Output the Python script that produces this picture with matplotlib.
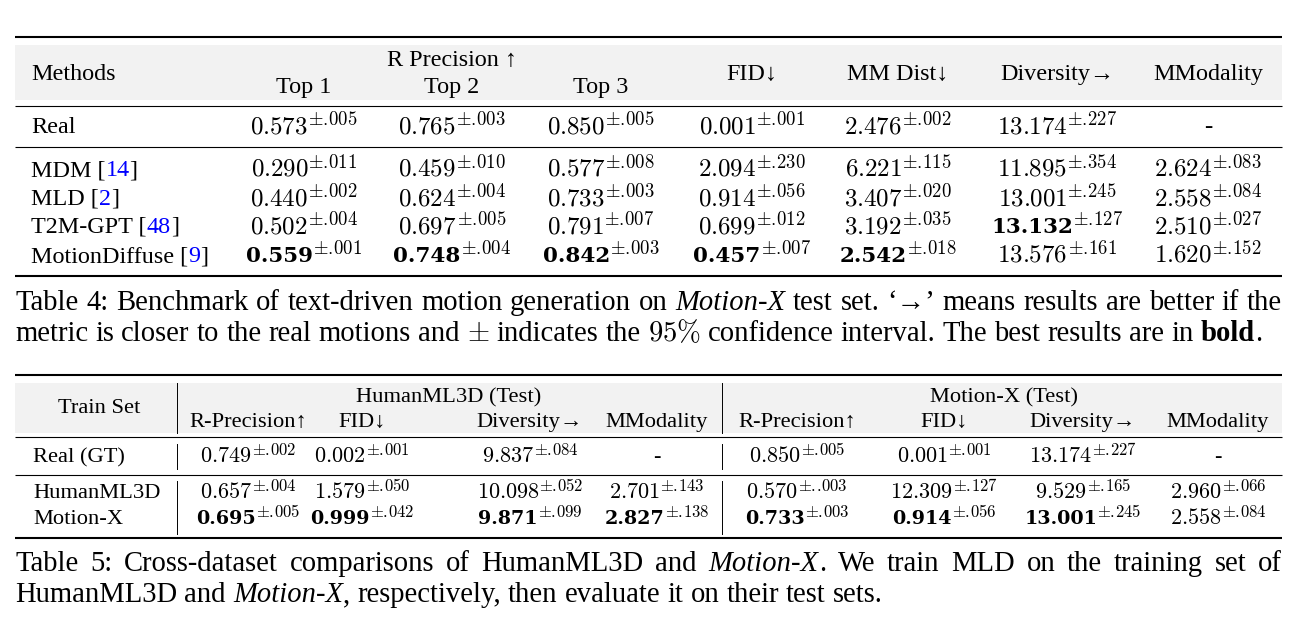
import matplotlib
matplotlib.use('Agg')
import matplotlib.pyplot as plt
from matplotlib.patches import Rectangle

plt.rcParams['font.family'] = ['Liberation Serif', 'DejaVu Serif']
plt.rcParams['mathtext.fontset'] = 'cm'

W, H = 1302, 618

# ---------------- Table 4 data ----------------
t4_subcols = ['Top 1', 'Top 2', 'Top 3']
t4_metrics = ['FID\u2193', 'MM Dist\u2193', 'Diversity\u2192', 'MModality']
t4_methods = ['Real', 'MDM', 'MLD', 'T2M-GPT', 'MotionDiffuse']
t4_refs = [None, '14', '2', '48', '9']
t4_vals = [
    ['0.573', '0.765', '0.850', '0.001', '2.476', '13.174', '-'],
    ['0.290', '0.459', '0.577', '2.094', '6.221', '11.895', '2.624'],
    ['0.440', '0.624', '0.733', '0.914', '3.407', '13.001', '2.558'],
    ['0.502', '0.697', '0.791', '0.699', '3.192', '13.132', '2.510'],
    ['0.559', '0.748', '0.842', '0.457', '2.542', '13.576', '1.620'],
]
t4_pm = [
    ['.005', '.003', '.005', '.001', '.002', '.227', None],
    ['.011', '.010', '.008', '.230', '.115', '.354', '.083'],
    ['.002', '.004', '.003', '.056', '.020', '.245', '.084'],
    ['.004', '.005', '.007', '.012', '.035', '.127', '.027'],
    ['.001', '.004', '.003', '.007', '.018', '.161', '.152'],
]
t4_bold = [(3, 5), (4, 0), (4, 1), (4, 2), (4, 3), (4, 4)]

# ---------------- Table 5 data ----------------
t5_groups = ['HumanML3D (Test)', 'Motion-X (Test)']
t5_metrics = ['R-Precision\u2191', 'FID\u2193', 'Diversity\u2192', 'MModality'] * 2
t5_sets = ['Real (GT)', 'HumanML3D', 'Motion-X']
t5_vals = [
    ['0.749', '0.002', '9.837', '-', '0.850', '0.001', '13.174', '-'],
    ['0.657', '1.579', '10.098', '2.701', '0.570', '12.309', '9.529', '2.960'],
    ['0.695', '0.999', '9.871', '2.827', '0.733', '0.914', '13.001', '2.558'],
]
t5_pm = [
    ['.002', '.001', '.084', None, '.005', '.001', '.227', None],
    ['.004', '.050', '.052', '.143', '..003', '.127', '.165', '.066'],
    ['.005', '.042', '.099', '.138', '.003', '.056', '.245', '.084'],
]
t5_bold = [(2, 0), (2, 1), (2, 2), (2, 3), (2, 4), (2, 5), (2, 6)]

cap4 = [
    [[(w, 'n')] for w in 'Table 4: Benchmark of text-driven motion generation on'.split()]
    + [[('Motion-X', 'i')], [('test', 'n')], [('set.', 'n')], [('\u2018\u2192\u2019', 'n')]]
    + [[(w, 'n')] for w in 'means results are better if the'.split()],
    [[(w, 'n')] for w in 'metric is closer to the real motions and'.split()]
    + [[(r'$\pm$', 'n')], [('indicates', 'n')], [('the', 'n')], [(r'$95\%$', 'n')]]
    + [[(w, 'n')] for w in 'confidence interval. The best results are in'.split()]
    + [[('bold', 'b'), ('.', 'n')]],
]
cap5 = [
    [[(w, 'n')] for w in 'Table 5: Cross-dataset comparisons of HumanML3D and'.split()]
    + [[('Motion-X', 'i'), ('.', 'n')]]
    + [[(w, 'n')] for w in 'We train MLD on the training set of'.split()],
    [[('HumanML3D', 'n')], [('and', 'n')], [('Motion-X', 'i'), (',', 'n')]]
    + [[(w, 'n')] for w in 'respectively, then evaluate it on their test sets.'.split()],
]

STYLE = {'n': {}, 'i': {'style': 'italic'}, 'b': {'weight': 'bold'}}

fig = plt.figure(figsize=(W / 100, H / 100), dpi=100)
ax = fig.add_axes([0, 0, 1, 1])
ax.set_xlim(0, W)
ax.set_ylim(H, 0)
ax.axis('off')
renderer = fig.canvas.get_renderer()


def width(t):
    return t.get_window_extent(renderer).width


def runs(x, y, parts, size, justify=None):
    """parts: list of words, each word a list of (text, style) pieces"""
    placed, widths = [], []
    for word in parts:
        pieces, wsum = [], 0
        for txt, st in word:
            t = ax.text(0, y, txt, fontsize=size, va='baseline', ha='left', **STYLE[st])
            tw = width(t)
            pieces.append((t, tw))
            wsum += tw
        placed.append(pieces)
        widths.append(wsum)
    gap = 0.25 * size * 100 / 72
    if justify is not None and len(parts) > 1:
        gap = (justify - sum(widths)) / (len(parts) - 1)
    for pieces in placed:
        for t, tw in pieces:
            t.set_x(x)
            x += tw
        x += gap


def cell(x, y, val, pm, bold, size, raise_px):
    if pm is None:
        ax.text(x, y, val, fontsize=size, ha='center', va='baseline')
        return
    if bold:
        base = ax.text(0, y, val, fontsize=size * 0.86, va='baseline',
                       family='DejaVu Serif', weight='bold')
    else:
        base = ax.text(0, y, '$%s$' % val, fontsize=size, va='baseline')
    sup = ax.text(0, y - raise_px, r'$\pm%s$' % pm.replace('.', r'.\!'),
                  fontsize=size * 0.75, va='baseline')
    wb, ws = width(base), width(sup)
    x0 = x - (wb + ws) / 2
    base.set_x(x0)
    sup.set_x(x0 + wb)


def rule(y, lw):
    ax.plot([15, 1282], [y, y], color='black', lw=lw, solid_capstyle='butt')


THICK, THIN = 1.5, 0.8

# ---------------- Table 4 ----------------
fs4, num4 = 17.4, 18
ax.add_patch(Rectangle((15, 45), 1267, 55, color='#f2f2f2', zorder=0, lw=0))
rule(37, THICK)
rule(106, THIN)
rule(147, THIN)
rule(276, THICK)

t4_x = [304, 452, 601, 752, 898, 1057, 1208]
ax.text(31, 80, 'Methods', fontsize=fs4, va='baseline')
ax.text(t4_x[1], 66, 'R Precision \u2191', fontsize=fs4, ha='center', va='baseline')
for x, lab in zip(t4_x[:3], t4_subcols):
    ax.text(x, 93, lab, fontsize=fs4, ha='center', va='baseline')
for x, lab in zip(t4_x[3:], t4_metrics):
    ax.text(x, 80, lab, fontsize=fs4, ha='center', va='baseline')

t4_y = [133, 176, 205, 233, 262]
for i, (name, ref) in enumerate(zip(t4_methods, t4_refs)):
    y = t4_y[i]
    if ref is None:
        ax.text(31, y, name, fontsize=fs4, va='baseline')
    else:
        t = ax.text(31, y, name + ' [', fontsize=fs4, va='baseline')
        x = 31 + width(t)
        t = ax.text(x, y, ref, fontsize=fs4, va='baseline', color='#0000ff')
        x += width(t)
        ax.text(x, y, ']', fontsize=fs4, va='baseline')
    for j, x in enumerate(t4_x):
        cell(x, y, t4_vals[i][j], t4_pm[i][j], (i, j) in t4_bold, num4, 8)

fsc = 20.6
runs(15, 310, cap4[0], fsc, justify=1267)
runs(15, 341, cap4[1], fsc)

# ---------------- Table 5 ----------------
fs5, num5 = 16.2, 16
ax.add_patch(Rectangle((15, 383), 1267, 50, color='#f2f2f2', zorder=0, lw=0))
rule(375, THICK)
rule(437, THIN)
rule(475, THIN)
rule(538, THICK)
for vx in [177, 722]:
    ax.plot([vx, vx], [383, 433], color='black', lw=0.7)
    ax.plot([vx, vx], [444, 469], color='black', lw=0.7)
    ax.plot([vx, vx], [481, 534], color='black', lw=0.7)

t5_x = [248, 362, 530, 657, 797, 944, 1083, 1218]
ax.text(99, 413, 'Train Set', fontsize=fs5, ha='center', va='baseline')
ax.text(449, 402, t5_groups[0], fontsize=fs5, ha='center', va='baseline')
ax.text(1004, 402, t5_groups[1], fontsize=fs5, ha='center', va='baseline')
for x, lab in zip(t5_x, t5_metrics):
    ax.text(x, 427, lab, fontsize=fs5, ha='center', va='baseline')

t5_y = [462, 498, 524]
for i, name in enumerate(t5_sets):
    y = t5_y[i]
    ax.text(33, y, name, fontsize=fs5, va='baseline')
    for j, x in enumerate(t5_x):
        cell(x, y, t5_vals[i][j], t5_pm[i][j], (i, j) in t5_bold, num5, 7)

runs(15, 571, cap5[0], fsc, justify=1267)
runs(15, 602, cap5[1], fsc)

fig.savefig('out.png', dpi=100)
